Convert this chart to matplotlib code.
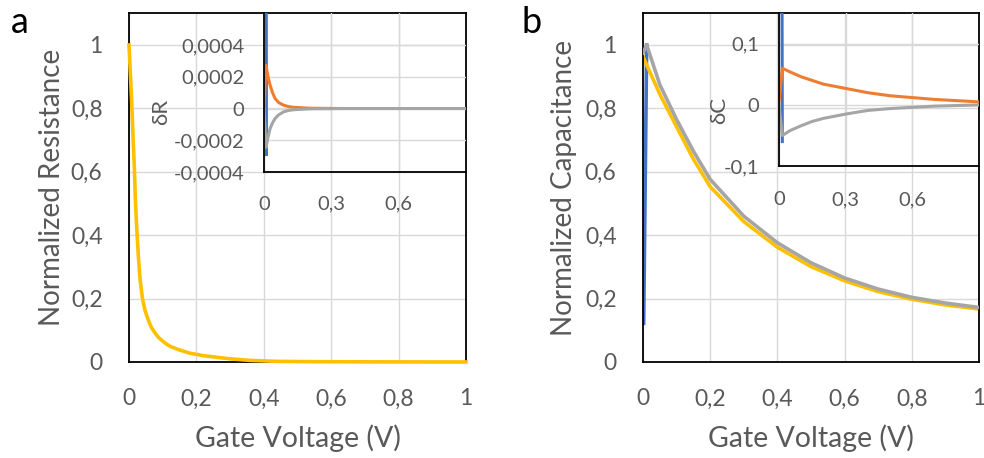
import matplotlib.pyplot as plt

plt.rcParams['font.family'] = ['Lato', 'DejaVu Sans']

BLUE = '#4472C4'
ORANGE = '#ED7D31'
GRAY = '#A5A5A5'
YELLOW = '#FFC000'
TXT = '#595959'
GRID = '#D9D9D9'

# panel a: normalized resistance vs gate voltage
res_v = [0, 0.004, 0.008, 0.012, 0.016, 0.019, 0.023, 0.028, 0.033, 0.04, 0.047, 0.053,
         0.06, 0.067, 0.075, 0.087, 0.1, 0.112, 0.125, 0.15, 0.18, 0.22, 0.26, 0.3,
         0.36, 0.44, 0.55, 0.7, 0.85, 1.0]
res_norm = [1, 0.91, 0.82, 0.71, 0.61, 0.51, 0.42, 0.33, 0.26, 0.2, 0.165, 0.145,
            0.125, 0.108, 0.095, 0.078, 0.066, 0.056, 0.048, 0.038, 0.028, 0.02, 0.015, 0.01,
            0.005, 0.002, 0.001, 0.0005, 0.0002, 0.0001]

# inset a: delta R
dR_blue_v = [0.010, 0.011]
dR_blue = [0.0008, -0.00029]
dR_orange_v = [0, 0.009, 0.018, 0.027, 0.038, 0.049, 0.065, 0.087, 0.11, 0.13, 0.2, 0.35]
dR_orange = [0, 0.000272, 0.0002, 0.000148, 0.0001, 0.000064, 0.000038, 0.000021,
             0.000012, 0.000008, 0.000002, 0]
dR_gray_v = [0, 0.009, 0.018, 0.027, 0.038, 0.049, 0.065, 0.087, 0.11, 0.13, 0.2, 0.35, 0.6, 0.9]
dR_gray = [0, -0.000245, -0.00018, -0.000127, -0.00009, -0.000064, -0.00004, -0.000021,
           -0.000012, -0.000008, -0.000002, 0, 0, 0]

# panel b: normalized capacitance vs gate voltage
cap_blue_v = [0.002, 0.011]
cap_blue = [0.122, 1.0]
cap_gray_v = [0, 0.011, 0.05, 0.1, 0.15, 0.2, 0.3, 0.4, 0.5, 0.6, 0.7, 0.8, 0.9, 1.0]
cap_gray = [0.975, 1.0, 0.875, 0.765, 0.665, 0.576, 0.46, 0.376, 0.313, 0.265, 0.23,
            0.204, 0.186, 0.172]
cap_yellow_v = [0, 0.05, 0.1, 0.15, 0.2, 0.3, 0.4, 0.5, 0.6, 0.7, 0.8, 0.9, 1.0]
cap_yellow = [0.963, 0.845, 0.742, 0.64, 0.553, 0.443, 0.362, 0.301, 0.256, 0.222, 0.198,
              0.18, 0.167]

# inset b: delta C
dC_blue_v = [0.013, 0.015]
dC_blue = [0.3, -0.06]
dC_v = [0, 0.015, 0.05, 0.1, 0.15, 0.2, 0.3, 0.4, 0.5, 0.6, 0.7, 0.8, 0.9]
dC_orange = [0.005, 0.06, 0.054, 0.046, 0.04, 0.034, 0.027, 0.02, 0.015, 0.012, 0.009,
             0.007, 0.005]
dC_gray = [0, -0.05, -0.042, -0.034, -0.027, -0.022, -0.015, -0.009, -0.006, -0.004,
           -0.002, -0.001, 0]

main_ticks = [0, 0.2, 0.4, 0.6, 0.8, 1]
main_labels = ['0', '0,2', '0,4', '0,6', '0,8', '1']
inset_xticks = [0, 0.3, 0.6]
inset_xlabels = ['0', '0,3', '0,6']
dR_ticks = [-0.0004, -0.0002, 0, 0.0002, 0.0004]
dR_labels = ['-0,0004', '-0,0002', '0', '0,0002', '0,0004']
dC_ticks = [-0.1, 0, 0.1]
dC_labels = ['-0,1', '0', '0,1']

W, H = 984, 458
fig = plt.figure(figsize=(W / 100, H / 100), dpi=100)


def box(l, r, t, b):
    return [l / W, (H - b) / H, (r - l) / W, (b - t) / H]


def style_main(ax, ylabel, ypad):
    ax.set_xlim(0, 1)
    ax.set_ylim(0, 1.1)
    ax.set_xticks(main_ticks)
    ax.set_xticklabels(main_labels)
    ax.set_yticks(main_ticks)
    ax.set_yticklabels(main_labels)
    ax.tick_params(length=0, labelsize=16.5, labelcolor=TXT)
    ax.tick_params(axis='x', pad=19)
    ax.tick_params(axis='y', pad=19)
    ax.grid(True, color=GRID, lw=1.0)
    ax.set_axisbelow(True)
    for s in ax.spines.values():
        s.set_color('black')
        s.set_linewidth(1.3)
    ax.set_xlabel('Gate Voltage (V)', fontsize=20.5, color=TXT, labelpad=11)
    ax.set_ylabel(ylabel, fontsize=20, color=TXT, labelpad=ypad)


def style_inset(ax, ylim, yticks, ylabels, ylabel, lab_xy, xpad):
    ax.set_facecolor('none')
    ax.set_xlim(0, 0.9)
    ax.set_ylim(*ylim)
    ax.set_xticks(inset_xticks)
    ax.set_xticklabels(inset_xlabels)
    ax.set_yticks(yticks)
    ax.set_yticklabels(ylabels)
    ax.tick_params(length=0, labelsize=14.5, labelcolor=TXT)
    ax.tick_params(axis='x', pad=xpad)
    ax.tick_params(axis='y', pad=14)
    ax.grid(True, color=GRID, lw=1.0)
    ax.set_axisbelow(True)
    ax.spines['top'].set_visible(False)
    ax.spines['right'].set_visible(False)
    for s in ('left', 'bottom'):
        ax.spines[s].set_color('black')
        ax.spines[s].set_linewidth(1.3)
    ax.set_ylabel(ylabel, fontsize=16, color=TXT)
    ax.yaxis.set_label_coords(*lab_xy)


# ---- panel a ----
ax1 = fig.add_axes(box(129, 466, 13.3, 362))
style_main(ax1, 'Normalized Resistance', 4)
ax1.plot(res_v, res_norm, color=YELLOW, lw=2.6, clip_on=False, zorder=3)

in1 = fig.add_axes(box(264, 466, 13.3, 172))
style_inset(in1, (-0.0004, 0.0006), dR_ticks, dR_labels, 'δR', (-0.46, 0.378), 17)
in1.plot(dR_blue_v, dR_blue, color=BLUE, lw=2.2)
in1.plot(dR_orange_v, dR_orange, color=ORANGE, lw=2.2)
in1.plot(dR_gray_v, dR_gray, color=GRAY, lw=2.2)

# ---- panel b ----
ax2 = fig.add_axes(box(643, 979, 13.3, 362))
style_main(ax2, 'Normalized Capacitance', 6)
ax2.plot(cap_blue_v, cap_blue, color=BLUE, lw=2.6)
ax2.plot(cap_gray_v, cap_gray, color=GRAY, lw=2.6, zorder=3)
ax2.plot(cap_yellow_v, cap_yellow, color=YELLOW, lw=2.6, zorder=2.5)

in2 = fig.add_axes(box(779, 979, 13.3, 166))
style_inset(in2, (-0.1, 0.15), dC_ticks, dC_labels, 'δC', (-0.25, 0.367), 18)
in2.plot(dC_blue_v, dC_blue, color=BLUE, lw=2.2)
in2.plot(dC_v, dC_orange, color=ORANGE, lw=2.2)
in2.plot(dC_v, dC_gray, color=GRAY, lw=2.2)

fig.text(11 / W, 1 - 33 / H, 'a', fontsize=26, color='black', va='baseline')
fig.text(522 / W, 1 - 33 / H, 'b', fontsize=26, color='black', va='baseline')

fig.savefig('out.png', dpi=100)
